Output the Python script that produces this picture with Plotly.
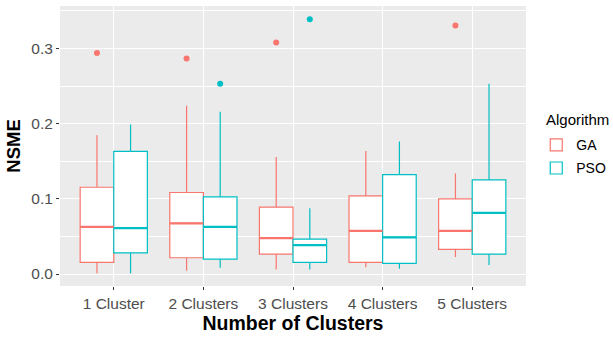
import plotly.graph_objects as go

# Box-plot summary statistics of NSME per number of clusters and algorithm
categories = ["1 Cluster", "2 Clusters", "3 Clusters", "4 Clusters", "5 Clusters"]

ga_lower = [0.001, 0.0044, 0.0062, 0.0089, 0.0226]
ga_q1 = [0.0155, 0.0217, 0.0266, 0.0155, 0.0328]
ga_median = [0.0628, 0.0673, 0.0478, 0.0575, 0.0575]
ga_q3 = [0.1155, 0.1085, 0.089, 0.104, 0.100]
ga_upper = [0.1846, 0.224, 0.1558, 0.1638, 0.1337]
ga_outliers = [[0.294], [0.2869], [0.308], [], [0.3307]]

pso_lower = [0.001, 0.0084, 0.0062, 0.0071, 0.012]
pso_q1 = [0.0283, 0.0199, 0.0155, 0.0142, 0.0266]
pso_median = [0.0611, 0.0628, 0.0385, 0.0487, 0.0814]
pso_q3 = [0.1633, 0.1027, 0.0465, 0.1324, 0.1252]
pso_upper = [0.1988, 0.216, 0.0876, 0.1762, 0.2532]
pso_outliers = [[], [0.2532], [0.339], [], []]

GA_COLOR = "#F8766D"
PSO_COLOR = "#00BFC4"
BOX_W = 0.375
FONT = "Liberation Sans, Arial, sans-serif"

fig = go.Figure()

groups = [
    ("GA", -BOX_W / 2, GA_COLOR, ga_lower, ga_q1, ga_median, ga_q3, ga_upper, ga_outliers),
    ("PSO", BOX_W / 2, PSO_COLOR, pso_lower, pso_q1, pso_median, pso_q3, pso_upper, pso_outliers),
]

for name, off, color, lo, q1, med, q3, hi, outl in groups:
    xs = [i + 1 + off for i in range(len(categories))]
    fig.add_trace(go.Box(
        name=name, x=xs, q1=q1, median=med, q3=q3,
        lowerfence=lo, upperfence=hi,
        width=BOX_W, whiskerwidth=0,
        fillcolor="white", line=dict(color=color, width=1.2),
        boxpoints=False, showlegend=True, legendgroup=name,
    ))
    # thicker median segments
    for x, m in zip(xs, med):
        fig.add_trace(go.Scatter(
            x=[x - BOX_W / 2, x + BOX_W / 2], y=[m, m], mode="lines",
            line=dict(color=color, width=2.2), showlegend=False,
            legendgroup=name, hoverinfo="skip",
        ))
    ox, oy = [], []
    for x, vals in zip(xs, outl):
        for v in vals:
            ox.append(x)
            oy.append(v)
    fig.add_trace(go.Scatter(
        x=ox, y=oy, mode="markers", marker=dict(color=color, size=6),
        showlegend=False, legendgroup=name, hoverinfo="skip",
    ))

fig.update_layout(
    width=613, height=337,
    margin=dict(l=60, r=87, t=6, b=51, autoexpand=False),
    paper_bgcolor="white", plot_bgcolor="#EBEBEB",
    font=dict(family=FONT, size=13, color="#4D4D4D"),
    legend=dict(
        x=1.022, xanchor="left", y=0.56, yanchor="top",
        font=dict(size=14, color="black"),
        bgcolor="rgba(0,0,0,0)", tracegroupgap=2,
    ),
    showlegend=True,
    annotations=[dict(
        text="Algorithm", xref="paper", yref="paper", x=1.039, y=0.595,
        xanchor="left", yanchor="middle", showarrow=False,
        font=dict(size=15, color="black"),
    )],
)

fig.update_xaxes(
    range=[0.4, 5.6], tickvals=[1, 2, 3, 4, 5], ticktext=categories,
    showgrid=True, gridcolor="white", gridwidth=1.4, zeroline=False,
    ticks="outside", ticklen=3, tickcolor="#333333", tickwidth=1,
    tickfont=dict(size=15.5, color="#4D4D4D"),
    title=dict(text="<b>Number of Clusters</b>", font=dict(size=19.5, color="black"), standoff=2),
)
fig.update_yaxes(
    range=[-0.0159, 0.3566], tickvals=[0.0, 0.1, 0.2, 0.3],
    ticktext=["0.0", "0.1", "0.2", "0.3"],
    showgrid=True, gridcolor="white", gridwidth=1.4, zeroline=False,
    minor=dict(tickvals=[0.05, 0.15, 0.25, 0.35], showgrid=True, gridcolor="white", gridwidth=0.7),
    ticks="outside", ticklen=3, tickcolor="#333333", tickwidth=1,
    tickfont=dict(size=15.5, color="#4D4D4D"),
    title=dict(text="<b>NSME</b>", font=dict(size=18.5, color="black"), standoff=5),
)

fig.write_html("out.html")
